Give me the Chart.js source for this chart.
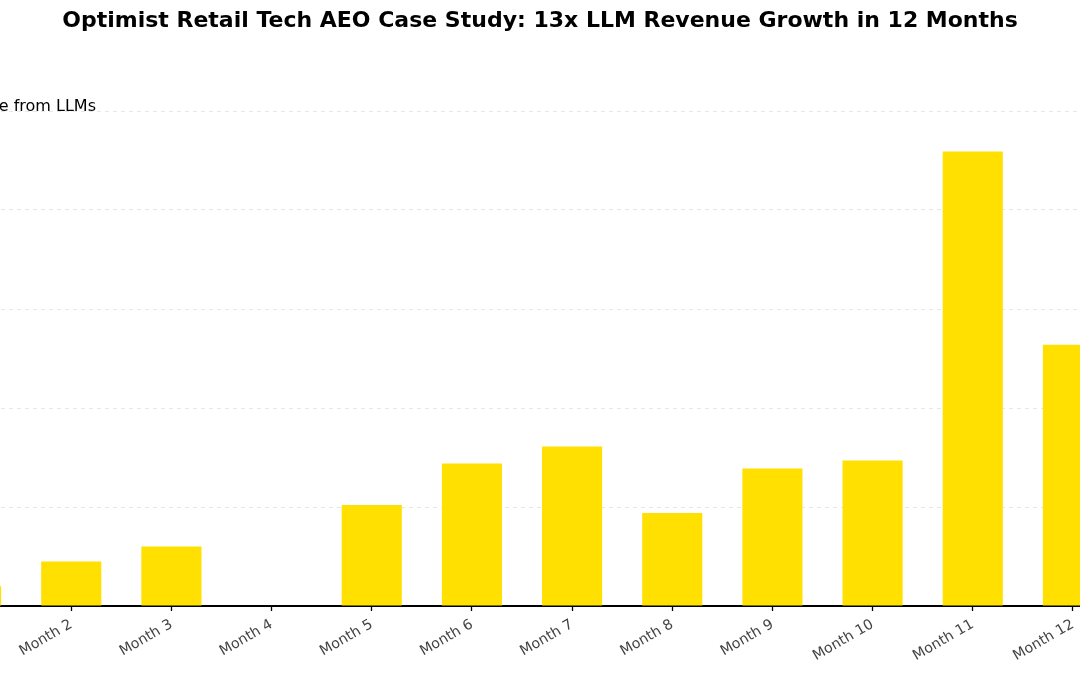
<!DOCTYPE html>
<html>
<head>
<meta charset="utf-8">
<script src="https://cdn.jsdelivr.net/npm/chart.js@4/dist/chart.umd.min.js"></script>
<style>
  html, body { margin: 0; padding: 0; background: #fff; }
  body { width: 1080px; height: 675px; overflow: hidden; position: relative; font-family: "DejaVu Sans", sans-serif; }
  #wrap { position: absolute; left: -99px; top: 0; width: 1278px; height: 675px; }
  #legend { position: absolute; right: 984px; top: 96px; white-space: nowrap; font-size: 16px; line-height: 20px; color: #000; }
  #legend .sw { display: inline-block; width: 28px; height: 11px; background: #FFE000; margin-right: 10px; vertical-align: -1px; }
</style>
</head>
<body>
<div id="wrap"><canvas id="chart"></canvas></div>
<div id="legend"><span class="sw"></span>Revenue from LLMs</div>
<script>
(function() {
  const months = ['Month 1', 'Month 2', 'Month 3', 'Month 4', 'Month 5', 'Month 6',
                  'Month 7', 'Month 8', 'Month 9', 'Month 10', 'Month 11', 'Month 12'];
  const llmRevenue = [200, 450, 600, 0, 1020, 1440, 1610, 940, 1390, 1470, 4590, 2640];
  const yMax = 5000;
  const yStep = 1000;

  const ctx = document.getElementById('chart').getContext('2d');
  new Chart(ctx, {
    type: 'bar',
    data: {
      labels: months,
      datasets: [{
        label: 'Revenue from LLMs',
        data: llmRevenue,
        backgroundColor: '#FFE000',
        borderWidth: 0,
        barPercentage: 0.6,
        categoryPercentage: 1.0
      }]
    },
    options: {
      responsive: true,
      maintainAspectRatio: false,
      animation: false,
      layout: { padding: { left: 20, right: 20, top: 0, bottom: 0 } },
      plugins: {
        legend: { display: false },
        tooltip: { enabled: false },
        title: {
          display: true,
          text: 'Optimist Retail Tech AEO Case Study: 13x LLM Revenue Growth in 12 Months',
          color: '#000',
          font: { family: 'DejaVu Sans', size: 22, weight: 'bold', lineHeight: 1.2 },
          padding: { top: 8, bottom: 76.6 }
        }
      },
      scales: {
        x: {
          offset: true,
          grid: {
            offset: false,
            drawOnChartArea: false,
            drawTicks: true,
            tickLength: 5,
            tickColor: '#000',
            tickWidth: 1.3
          },
          border: { display: true, color: '#000', width: 2 },
          ticks: {
            color: '#444',
            font: { family: 'DejaVu Sans', size: 14.3 },
            minRotation: 30,
            maxRotation: 30,
            autoSkip: false,
            padding: 5
          },
          afterFit: (scale) => { scale.height = 69; }
        },
        y: {
          min: 0,
          max: yMax,
          ticks: { display: false, stepSize: yStep },
          grid: {
            drawTicks: false,
            color: '#e6e6e6',
            lineWidth: 1
          },
          border: { display: false, dash: [4, 4] },
          afterFit: (scale) => { scale.width = 0; }
        },
        // empty right-hand axis, only keeps the plot off-centre like the original figure
        yRight: {
          position: 'right',
          ticks: { display: false },
          grid: { display: false },
          border: { display: false },
          afterFit: (scale) => { scale.width = 36; }
        }
      }
    }
  });
})();
</script>
</body>
</html>
